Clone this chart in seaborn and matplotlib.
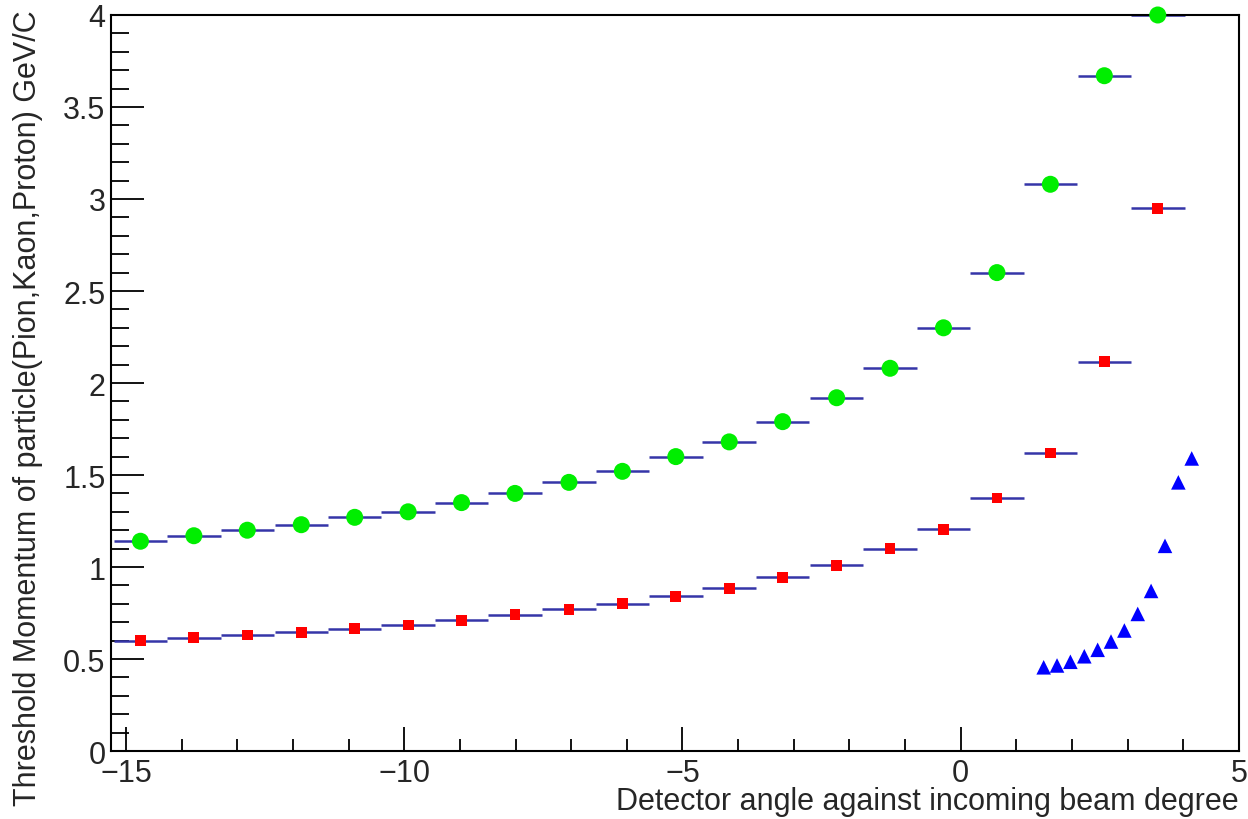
import numpy as np
import pandas as pd
import seaborn as sns
import matplotlib
matplotlib.use("Agg")
import matplotlib.pyplot as plt
from matplotlib import ticker

# Detector angle bins (degrees) for the kaon / proton scans
angle_bins = [-14.74, -13.78, -12.82, -11.85, -10.89, -9.93, -8.97, -8.01,
              -7.04, -6.08, -5.12, -4.16, -3.20, -2.23, -1.27, -0.31,
              0.65, 1.61, 2.58, 3.54]
bin_half_width = 0.481

# Threshold momentum (GeV/c)
proton_p = [1.14, 1.17, 1.20, 1.23, 1.27, 1.30, 1.35, 1.40, 1.46, 1.52,
            1.60, 1.68, 1.79, 1.92, 2.08, 2.30, 2.60, 3.08, 3.67, 4.00]
kaon_p = [0.60, 0.615, 0.63, 0.645, 0.665, 0.685, 0.71, 0.74, 0.77, 0.80,
          0.84, 0.885, 0.945, 1.01, 1.10, 1.205, 1.375, 1.62, 2.115, 2.95]

# Pion scan uses a finer angle grid
pion_angle = [1.49, 1.73, 1.97, 2.22, 2.46, 2.70, 2.94, 3.18, 3.42, 3.67,
              3.91, 4.15]
pion_p = [0.455, 0.465, 0.485, 0.515, 0.55, 0.595, 0.655, 0.745, 0.87,
          1.115, 1.46, 1.59]

x_ticks = [-15, -10, -5, 0, 5]
y_ticks = [0, 0.5, 1, 1.5, 2, 2.5, 3, 3.5, 4]

sns.set_style("white")
plt.rcParams["font.family"] = ["Liberation Sans", "DejaVu Sans"]

fig = plt.figure(figsize=(12.48, 8.2), dpi=100)
ax = fig.add_axes([0.0889, 0.0829, 0.9039, 0.8976])

err_color = "#3535a8"
for ys in (proton_p, kaon_p):
    ax.errorbar(angle_bins, ys, xerr=bin_half_width, fmt="none",
                ecolor=err_color, elinewidth=1.8, capsize=0, clip_on=False,
                zorder=2)

df_p = pd.DataFrame({"angle": angle_bins, "p": proton_p})
df_k = pd.DataFrame({"angle": angle_bins, "p": kaon_p})
df_pi = pd.DataFrame({"angle": pion_angle, "p": pion_p})

sns.scatterplot(data=df_p, x="angle", y="p", ax=ax, marker="o", s=150,
                color="#00ee00", edgecolor="none", linewidth=0, zorder=3,
                clip_on=False)
sns.scatterplot(data=df_k, x="angle", y="p", ax=ax, marker="s", s=60,
                color="#ff0000", edgecolor="none", linewidth=0, zorder=3,
                clip_on=False)
sns.scatterplot(data=df_pi, x="angle", y="p", ax=ax, marker="^", s=110,
                color="#0000ff", edgecolor="none", linewidth=0, zorder=3,
                clip_on=False)

ax.set_xlim(-15.27, 5.0)
ax.set_ylim(0, 4)

def fmt(v, pos):
    return ("%g" % v).replace("-", "\u2212")

ax.xaxis.set_major_locator(ticker.FixedLocator(x_ticks))
ax.xaxis.set_minor_locator(ticker.MultipleLocator(1))
ax.yaxis.set_major_locator(ticker.FixedLocator(y_ticks))
ax.yaxis.set_minor_locator(ticker.MultipleLocator(0.1))
ax.xaxis.set_major_formatter(ticker.FuncFormatter(fmt))
ax.yaxis.set_major_formatter(ticker.FuncFormatter(fmt))

ax.tick_params(axis="both", which="both", direction="in", color="black",
               labelsize=22, width=1.3)
ax.tick_params(axis="x", which="major", length=17, pad=5, top=False, bottom=True)
ax.tick_params(axis="x", which="minor", length=9, top=False, bottom=True)
ax.tick_params(axis="y", which="major", length=24, pad=4, left=True, right=False)
ax.tick_params(axis="y", which="minor", length=13, left=True, right=False)

for sp in ax.spines.values():
    sp.set_color("black")
    sp.set_linewidth(1.5)
    sp.set_visible(True)

ax.set_xlabel("Detector angle against incoming beam degree", fontsize=22,
              loc="right")
ax.xaxis.set_label_coords(1.0, -0.047)
ax.set_ylabel("Threshold Momentum of particle(Pion,Kaon,Proton) GeV/C",
              fontsize=22, loc="top")
ax.yaxis.set_label_coords(-0.060, 1.008)

fig.savefig("out.png", dpi=100)
